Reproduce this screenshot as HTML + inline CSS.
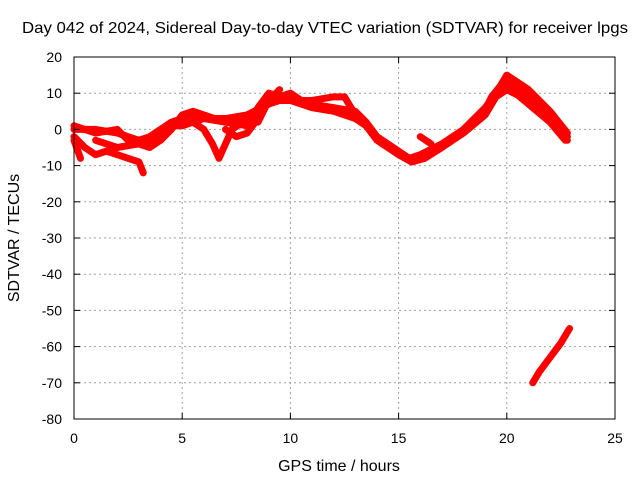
<!DOCTYPE html>
<html><head><meta charset="utf-8"><style>
body{margin:0;background:#fff}
svg text{font-family:"Liberation Sans",sans-serif;font-size:14px;fill:#000}
svg text.big{font-size:16px}
</style></head><body>
<svg width="640" height="480">
<rect width="640" height="480" fill="#fff"/>
<g id="grid"></g><g id="marks"></g>
<rect x="74" y="57" width="541" height="362" fill="none" stroke="#000"/>
<g id="axes"></g>
<text class="big" x="22" y="33" textLength="606" lengthAdjust="spacingAndGlyphs">Day 042 of 2024, Sidereal Day-to-day VTEC variation (SDTVAR) for receiver lpgs</text>
<text class="big" x="339" y="471" text-anchor="middle">GPS time / hours</text>
<text class="big" transform="translate(19,238) rotate(-90)" text-anchor="middle">SDTVAR / TECUs</text>
</svg>
<script>
const xTicks=[0,5,10,15,20,25];
const yTicks=[20,10,0,-10,-20,-30,-40,-50,-60,-70,-80];
const trackA=[[0,0],[1,0],[2,-1],[2.5,-2],[3,-3],[3.5,-2],[4,0],[4.5,2],[5,3],[5.5,4],[6,3],[7,3],[8,4],[9,7],[10,9],[11,7],[12,6],[13,5],[13.5,2],[14,-2],[15,-6],[15.5,-8],[16,-7],[17,-4],[18,0],[19,6],[19.5,10],[20,13],[21,9],[22,4],[22.8,-2]];
const trackA2=[[0,1],[1,-1],[2,0],[2.5,-3],[3.3,-4],[4,-2],[4.5,1],[5,1],[6,3],[7,2],[8,3],[9,8],[10,8],[11,6],[12,5],[13,3],[13.5,1],[14,-3],[15,-7],[15.6,-9],[16.2,-8],[17,-5],[18,-1],[19,4],[19.5,9],[20,11],[21,8],[22,3],[22.8,-3]];
const trackB=[[4,-3],[4.5,0],[5,4],[5.5,5],[6,4],[7,2],[8,1],[8.5,6],[9,10],[9.5,9],[10,10],[10.5,8],[11,8],[12,9],[12.5,9],[13,4]];
const trackC=[[5.5,2],[6,0],[6.4,-4],[6.7,-8],[7,-4],[7.3,0],[7.8,2]];
const trackD=[[0,-2],[0.5,-5],[1,-7],[1.5,-6],[2,-7],[2.5,-8],[3,-9],[3.2,-12]];
const trackE=[[0,-3],[0.3,-8]];
const trackF=[[1,-3],[2,-5],[3,-4],[3.5,-5],[4,-3]];
const trackG=[[18.8,3],[19.3,9],[19.7,12],[20,15],[20.5,13],[21,11],[22,5],[22.8,-1]];
const trackH=[[20,12],[21,7],[22,2],[22.7,-3]];
const trackI=[[8.5,2],[9,8],[9.5,11]];
const trackJ=[[21.2,-70],[21.5,-67],[22,-63],[22.5,-59],[22.9,-55]];
const trackK=[[16,-2],[16.5,-4]];
const trackL=[[7,0],[7.5,-2],[8,-1],[8.5,3]];
const tracks=[trackA,trackA2,trackB,trackC,trackD,trackE,trackF,trackG,trackH,trackI,trackJ,trackK,trackL];
const X0=74,X1=615,Y0=57,Y1=419;
const sx=v=>X0+(v-0)/25*(X1-X0);
const sy=v=>Y0+(20-v)/100*(Y1-Y0);
const NS="http://www.w3.org/2000/svg";
const grid=document.getElementById('grid'),axes=document.getElementById('axes'),marks=document.getElementById('marks');
function mk(t,a,p){const e=document.createElementNS(NS,t);for(const k in a)e.setAttribute(k,a[k]);p.appendChild(e);return e;}
xTicks.forEach(t=>{const x=sx(t);
 const g=mk('line',{x1:x,x2:x,y1:Y0,y2:Y1,stroke:'#a0a0a0','stroke-dasharray':'2,3'},grid);
 
 
 mk('line',{x1:x,x2:x,y1:Y1,y2:Y1-6,stroke:'#000'},axes);mk('line',{x1:x,x2:x,y1:Y0,y2:Y0+6,stroke:'#000'},axes);
 const l=mk('text',{x:x,y:443,'text-anchor':'middle'},axes);l.textContent=t;
 
 });
yTicks.forEach(t=>{const y=sy(t);
 const g=mk('line',{x1:X0,x2:X1,y1:y,y2:y,stroke:'#a0a0a0','stroke-dasharray':'2,3'},grid);
 
 
 mk('line',{x1:X0,x2:X0+6,y1:y,y2:y,stroke:'#000'},axes);mk('line',{x1:X1,x2:X1-6,y1:y,y2:y,stroke:'#000'},axes);
 const l=mk('text',{x:62,y:y+5,'text-anchor':'end'},axes);l.textContent=t;
 
 });
tracks.forEach(tr=>{
 const p=mk('polyline',{points:tr.map(d=>sx(d[0])+','+sy(d[1])).join(' '),fill:'none',stroke:'#ff0000','stroke-width':7,'stroke-linejoin':'round','stroke-linecap':'round'},marks);
 
 
});
</script>
</body></html>
